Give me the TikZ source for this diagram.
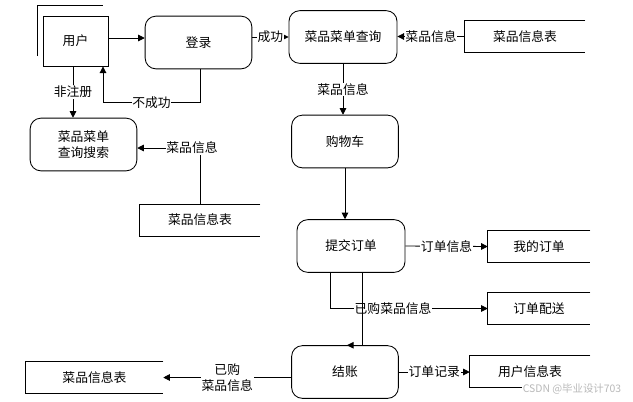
\documentclass[tikz,border=0pt]{standalone}
\usepackage{fontspec}
\setmainfont{Noto Sans CJK SC}
\usetikzlibrary{arrows.meta,calc}
\begin{document}
\begin{tikzpicture}[x=0.75pt,y=-0.75pt,
  every node/.style={font=\fontsize{9.6pt}{12pt}\selectfont, inner sep=1pt},
  proc/.style={draw, line width=0.65pt, rounded corners=8pt, minimum width=80pt, minimum height=39.5pt, align=center},
  store/.style={minimum width=#1, minimum height=23.5pt},
  ent/.style={draw, line width=0.65pt, minimum width=48.75pt, minimum height=37.5pt},
  ln/.style={line width=0.65pt},
  arr/.style={line width=0.65pt, -{Triangle[length=5pt,width=5pt]}},
  lbl/.style={fill=white, inner sep=0.5pt}
]
\useasboundingbox (0,0) rectangle (633,401);

% nodes
\node[ent] (user) at (75.5,41) {用户};
\draw[ln] (37,56) -- (37,5) -- (103,5);
\node[proc] (login) at (198.5,42.5) {登录};
\node[proc, minimum width=81pt] (query) at (343,37) {菜品菜单查询};
\node[store=90pt] (t1) at (525,36.5) {菜品信息表};
\node[proc] (search) at (83.5,144.5) {菜品菜单\\查询搜索};
\node[store=90pt] (t2) at (200,220) {菜品信息表};
\node[proc] (cart) at (345,141.5) {购物车};
\node[proc, minimum width=81pt] (submit) at (351,246) {提交订单};
\node[store=76.5pt] (myorder) at (539,246.5) {我的订单};
\node[store=76.5pt] (delivery) at (539,308.5) {订单配送};
\node[proc] (checkout) at (345,372) {结账};
\node[store=90pt] (ut) at (530,371.5) {用户信息表};
\node[store=102.75pt] (t3) at (94.5,377.5) {菜品信息表};

% open stores
\foreach \n in {t1,t2,myorder,delivery,ut,t3}
  \draw[ln] (\n.north east) -- (\n.north west) -- (\n.south west) -- (\n.south east);

% connectors
\draw[arr] ([yshift=2.25pt]user.east) -- ([yshift=2.25pt]user.east -| login.west);
\draw[arr] (login.east |- query.west) -- node[lbl]{成功} (query.west);
\draw[arr] (t1.west) -- node[lbl]{菜品信息} (t1.west -| query.east);
\draw[arr] (query.south) -- node[lbl]{菜品信息} (query.south |- cart.north);
\draw[arr] (cart.south) -- (cart.south |- submit.north);
\draw[arr] (submit.east) -- node[lbl]{订单信息} (myorder.west);

\coordinate (s1) at ([xshift=-15.75pt]submit.south);
\draw[arr] (s1) |- node[lbl, pos=0.7]{已购菜品信息} (delivery.west);
\coordinate (s2) at ([xshift=8.25pt]submit.south);
\draw[arr] (s2) |- ([xshift=1.5pt]checkout.north);

\draw[arr] (checkout.east) -- node[lbl]{订单记录} (checkout.east -| ut.west);
\draw[arr] (checkout.west |- t3.east) -- node[lbl, align=center, font=\fontsize{9.6pt}{11.5pt}\selectfont]{已购\\菜品信息} (t3.east);

\coordinate (u1) at ([xshift=-1.875pt]user.south);
\draw[arr] (u1) -- node[lbl]{非注册} (u1 |- search.north);

\coordinate (l1) at ([xshift=1.125pt]login.south);
\coordinate (l2) at ($(l1)+(0,33)$);
\coordinate (u2) at ([xshift=20.625pt]user.south);
\draw[arr] (l1) -- (l2) -- node[lbl]{不成功} (l2 -| u2) -- (u2);

\coordinate (c1) at ($(t2.north |- search.east)+(0,3.5)$);
\draw[arr] (t2.north) -- (c1) -- (c1 -| search.east);
\node[lbl] (lb1) at ($(c1)+(-8,0)$) {菜品信息};

\node[fill=white, text=gray!55, font=\fontsize{7.8pt}{9pt}\selectfont, inner sep=0.5pt] (wm) at (572,389) {CSDN @毕业设计703};
\end{tikzpicture}
\end{document}
